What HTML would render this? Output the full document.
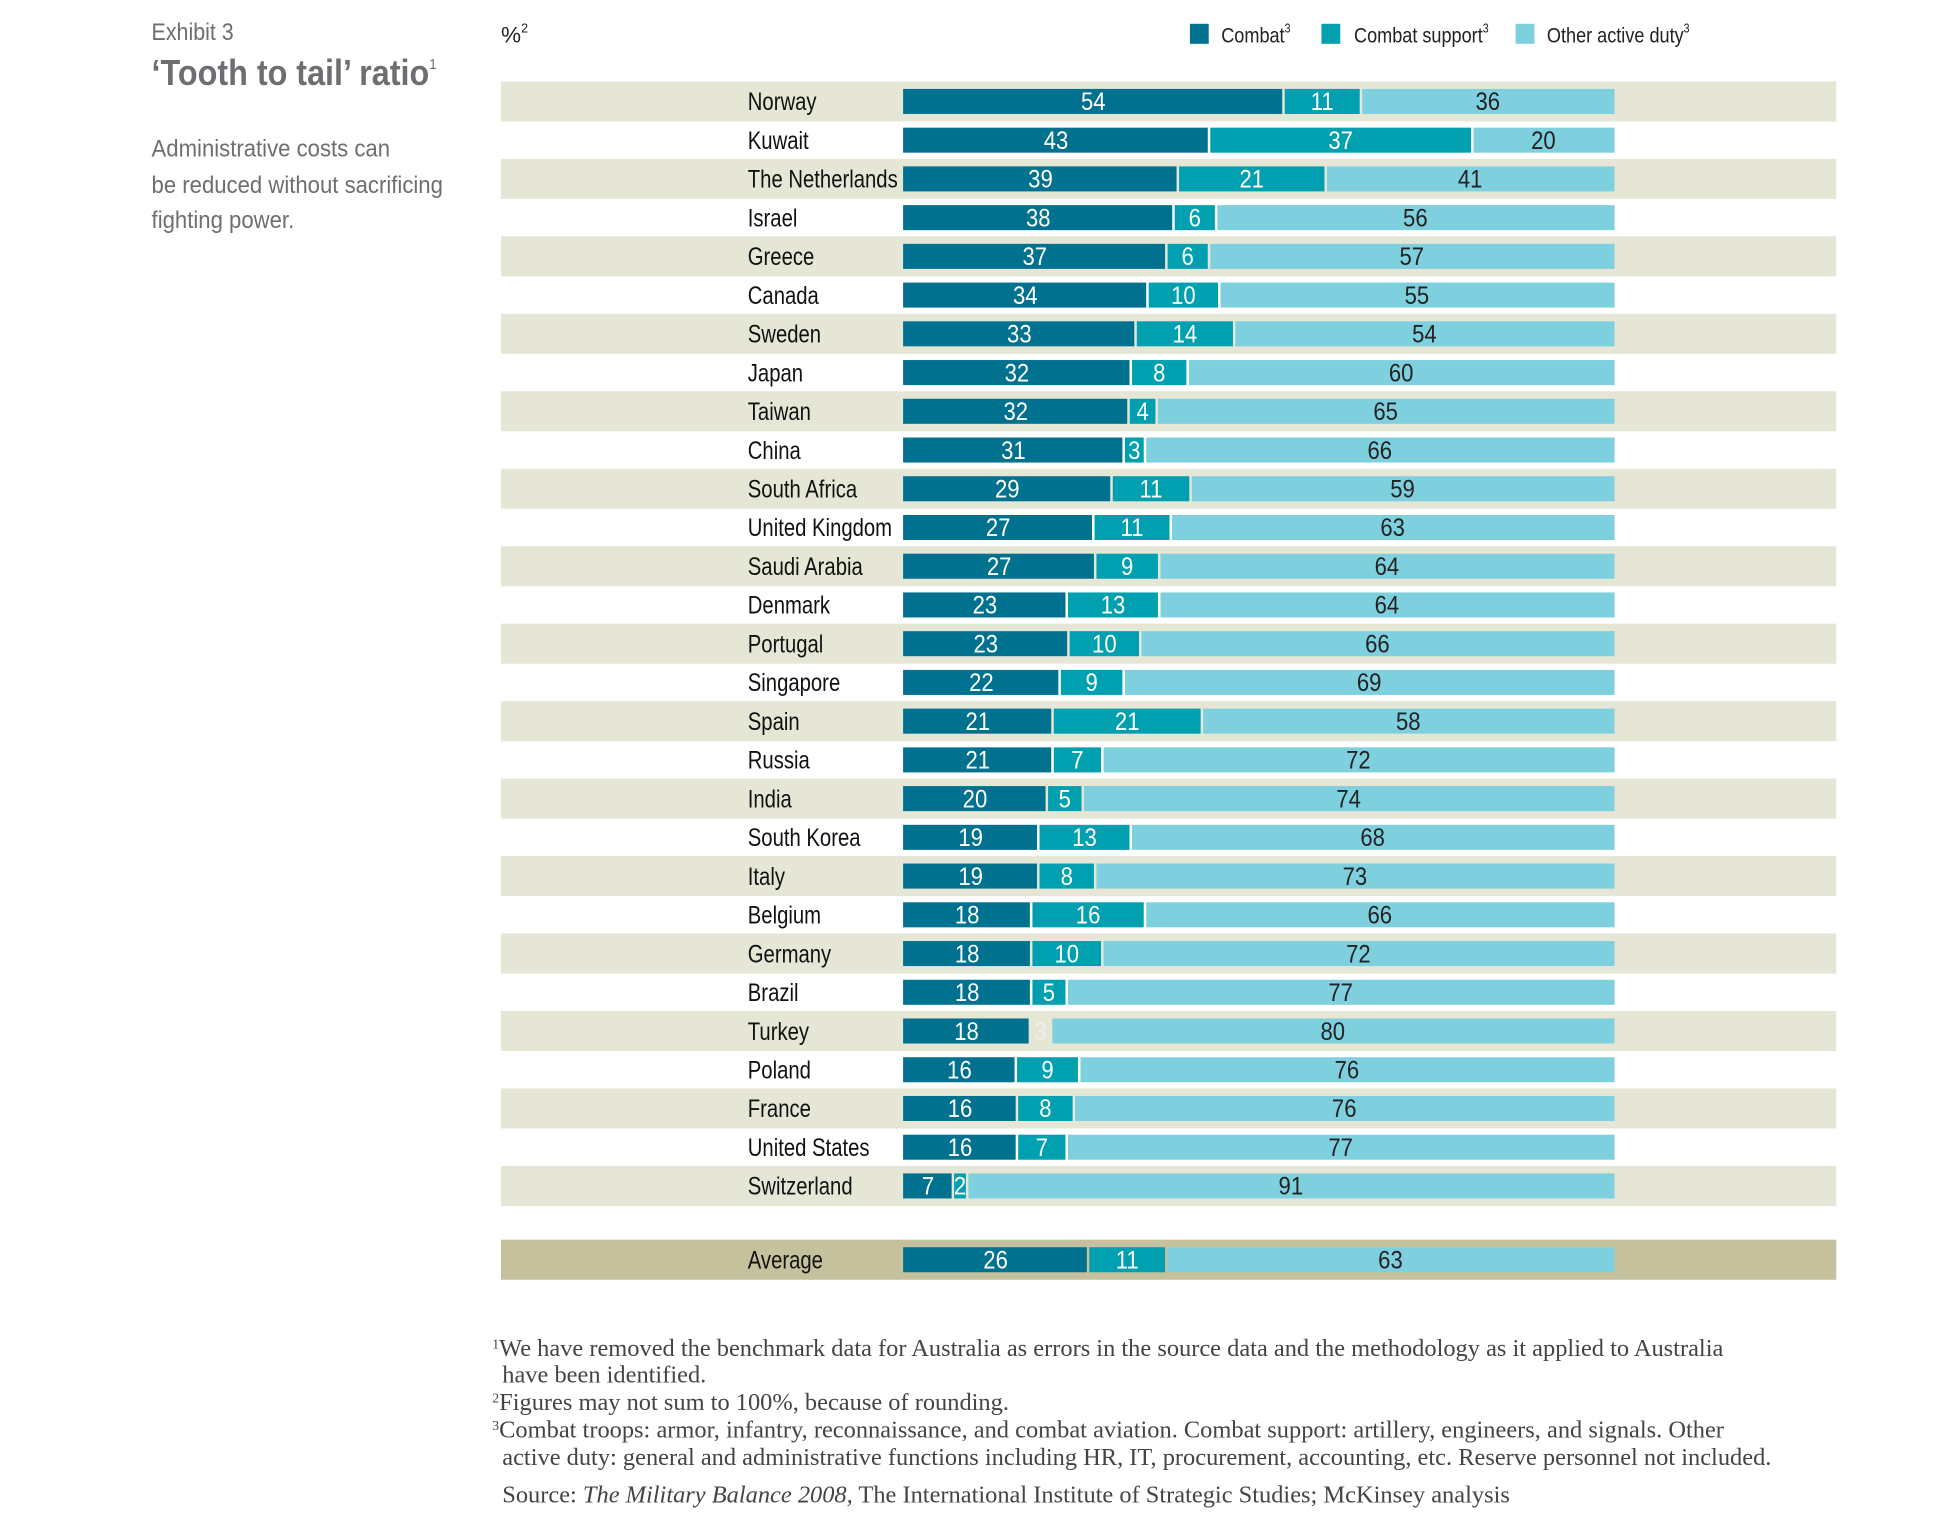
<!DOCTYPE html>
<html><head><meta charset="utf-8">
<style>
html,body{margin:0;padding:0;background:#fff;}
svg{display:block;}
.c{font-family:"Liberation Sans Narrow","Liberation Sans",sans-serif;}
.s{font-family:"Liberation Serif",serif;}
</style></head>
<body>
<svg id="chart" width="1954" height="1524" viewBox="0 0 1560 1217" preserveAspectRatio="none" xmlns="http://www.w3.org/2000/svg">
<text class="c" data-cf="0.9" x="121" y="32" font-size="19" fill="#6d6e71">Exhibit 3</text>
<text class="c" data-cf="0.89" x="121" y="68" font-size="29" font-weight="bold" fill="#6d6e71">‘Tooth to tail’ ratio<tspan font-size="12" dy="-13" font-weight="normal">1</tspan></text>
<text class="c" data-cf="0.93" x="121" y="125" font-size="19" fill="#6d6e71">Administrative costs can</text>
<text class="c" data-cf="0.93" x="121" y="154" font-size="19" fill="#6d6e71">be reduced without sacrificing</text>
<text class="c" data-cf="0.93" x="121" y="182" font-size="19" fill="#6d6e71">fighting power.</text>
<text class="c" x="400" y="34" font-size="18" fill="#222">%<tspan font-size="10" dy="-8">2</tspan></text>
<g>
<rect x="950" y="19" width="15" height="16" fill="#00718f"/>
<text class="c" data-cf="0.85" x="975" y="34" font-size="17" fill="#222">Combat<tspan font-size="10" dy="-8">3</tspan></text>
<rect x="1055" y="19" width="15" height="16" fill="#00a0b0"/>
<text class="c" data-cf="0.85" x="1081" y="34" font-size="17" fill="#222">Combat support<tspan font-size="10" dy="-8">3</tspan></text>
<rect x="1210" y="19" width="15" height="16" fill="#7fd0df"/>
<text class="c" data-cf="0.85" x="1235" y="34" font-size="17" fill="#222">Other active duty<tspan font-size="10" dy="-8">3</tspan></text>
</g>
<g id="rows"></g>
<g class="s" font-size="19.5" fill="#444">
<text x="393" y="1083"><tspan font-size="11" dy="-6">1</tspan><tspan dy="6">We have removed the benchmark data for Australia as errors in the source data and the methodology as it applied to Australia</tspan></text>
<text x="401" y="1104">have been identified.</text>
<text x="393" y="1126"><tspan font-size="11" dy="-6">2</tspan><tspan dy="6">Figures may not sum to 100%, because of rounding.</tspan></text>
<text x="393" y="1148"><tspan font-size="11" dy="-6">3</tspan><tspan dy="6">Combat troops: armor, infantry, reconnaissance, and combat aviation. Combat support: artillery, engineers, and signals. Other</tspan></text>
<text x="401" y="1170">active duty: general and administrative functions including HR, IT, procurement, accounting, etc. Reserve personnel not included.</text>
<text x="401" y="1200">Source: <tspan font-style="italic">The Military Balance 2008,</tspan> The International Institute of Strategic Studies; McKinsey analysis</text>
</g>
</svg>
<script>
const countries=["Norway","Kuwait","The Netherlands","Israel","Greece","Canada","Sweden","Japan","Taiwan","China","South Africa","United Kingdom","Saudi Arabia","Denmark","Portugal","Singapore","Spain","Russia","India","South Korea","Italy","Belgium","Germany","Brazil","Turkey","Poland","France","United States","Switzerland","Average"];
const combat=[54,43,39,38,37,34,33,32,32,31,29,27,27,23,23,22,21,21,20,19,19,18,18,18,18,16,16,16,7,26];
const support=[11,37,21,6,6,10,14,8,4,3,11,11,9,13,10,9,21,7,5,13,8,16,10,5,3,9,8,7,2,11];
const other=[36,20,41,56,57,55,54,60,65,66,59,63,64,64,66,69,58,72,74,68,73,66,72,77,80,76,76,77,91,63];

const NS="http://www.w3.org/2000/svg";
const g=document.getElementById('rows');
const x0=721,W=568,pitch=30.93,top0=65;
function rowY(i){return i<29? top0+i*pitch : top0+29*pitch+28;}
function mk(t,a){const e=document.createElementNS(NS,t);for(const k in a)e.setAttribute(k,a[k]);return e;}
countries.forEach((name,i)=>{
  const y=rowY(i), avg=i===29;
  if(avg||i%2===0){
    const b=mk('rect',{x:400,y:y,width:1066,height:32,fill:avg?'#c5c19c':'#e6e6d6'});
    
    
    g.appendChild(b);
  }
  const lab=mk('text',{x:597,y:y+23,'font-size':20,fill:'#111','class':'c','data-cf':'0.81'});
  
  
  lab.textContent=name;g.appendChild(lab);
  const vals=[combat[i],support[i],other[i]];
  const sum=vals[0]+vals[1]+vals[2];
  const cols=['#00718f','#00a0b0','#7fd0df'];
  const names=['bar-combat','bar-support','bar-other'];
  let cx=x0;
  vals.forEach((v,k)=>{
    const w=v/sum*W;
    const fill=(name==='Turkey'&&k===1)?'none':cols[k];
    const r=mk('rect',{x:cx+(k>0?1:0),y:y+6,width:Math.max(w-(k>0?1:0)-(k<2?1:0),0.5),height:20,fill:fill});
    
    
    g.appendChild(r);
    const t=mk('text',{x:cx+w/2,y:y+23,'font-size':20,'text-anchor':'middle','class':'c','data-cf':'0.88',fill:k===2?'#222':(fill==='none'?'#eee':'#fff')});
    
    
    t.textContent=v;g.appendChild(t);
    cx+=w;
  });
});
document.querySelectorAll('text[data-cf]').forEach(el=>{
  const f=parseFloat(el.getAttribute('data-cf'));
  const L=el.getComputedTextLength();
  if(L>0){el.setAttribute('textLength',(L*f).toFixed(1));el.setAttribute('lengthAdjust','spacingAndGlyphs');}
});
</script>
</body></html>
